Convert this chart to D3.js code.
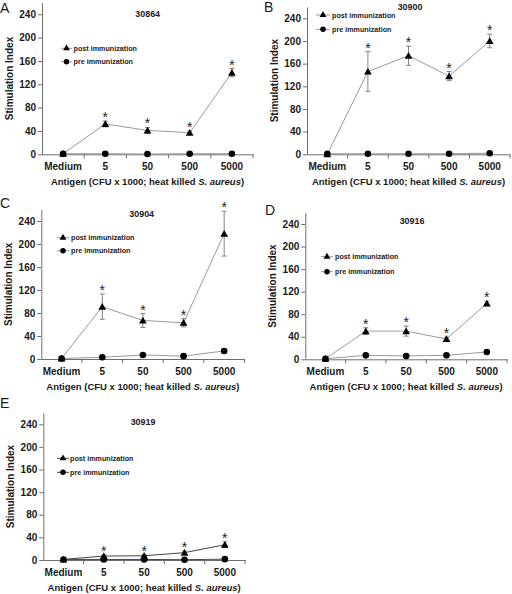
<!DOCTYPE html>
<html><head><meta charset="utf-8">
<script src="https://cdn.jsdelivr.net/npm/d3@7"></script>
<style>
html,body{margin:0;padding:0;background:#fff;}
svg{display:block;font-family:"Liberation Sans",Arial,sans-serif;}
</style></head>
<body>
<svg id="chart" width="512" height="594"></svg>
<script>
// ---------- data ----------
const categories = ["Medium", "5", "50", "500", "5000"];
const yTickValues = [0, 40, 80, 120, 160, 200, 240];
const panelLetters = ["A", "B", "C", "D", "E"];
const panelTitles = ["30864", "30900", "30904", "30916", "30919"];
const seriesNames = ["post immunization", "pre immunization"];
const xAxisTitle = "Antigen (CFU x 1000; heat killed ";
const xAxisTitleItalic = "S. aureus";
const yAxisTitle = "Stimulation Index";

const postA = [1, 52, 41, 37, 140];
const postErrA = [0, 5, 5, 3, 7];
const preA = [1, 1, 0.5, 1, 1];
const preErrA = [0, 0, 0, 0, 0];

const postB = [0, 146, 174, 138, 200];
const postErrB = [0, 35, 17, 8, 12];
const preB = [1, 1, 1, 1, 2];
const preErrB = [0, 0, 0, 0, 0];

const postC = [1, 91, 67, 63, 218];
const postErrC = [0, 22, 12, 7, 39];
const preC = [1, 3, 7, 5, 14];
const preErrC = [0, 0, 0, 0, 0];

const postD = [1, 50, 50, 36, 99];
const postErrD = [0, 6, 9, 3, 4];
const preD = [1, 7, 6, 7, 13];
const preErrD = [0, 0, 0, 0, 0];

const postE = [1, 7, 7.5, 13, 27];
const postErrE = [0, 2, 2, 3, 5];
const preE = [1, 1, 1, 0.5, 1.5];
const preErrE = [0, 0, 0, 0, 0];

const significant = [false, true, true, true, true];

// ---------- layout (positions only) ----------
const panels = [
  {post: postA, postErr: postErrA, pre: preA, preErr: preErrA,
   left: 42, right: 253, y0: 154.3, y240: 14.3,
   letter: [0, 12.5], title: [147.7, 16.5],
   leg: {x1: 61, x2: 72, mx: 66.5, tx: 73.5, yPost: 48.3, yPre: 61.7}, lineColor: "#9a9a9a"},
  {post: postB, postErr: postErrB, pre: preB, preErr: preErrB,
   left: 307, right: 510, y0: 154.3, y240: 18.3,
   letter: [264, 11.5], title: [410, 9.5],
   leg: {x1: 316, x2: 330, mx: 323, tx: 332, yPost: 15, yPre: 29.3}, lineColor: "#9a9a9a"},
  {post: postC, postErr: postErrC, pre: preC, preErr: preErrC,
   left: 41.3, right: 244.5, y0: 359, y240: 221,
   letter: [0, 207.5], title: [141.7, 216.5],
   leg: {x1: 57, x2: 69, mx: 63, tx: 71, yPost: 237.7, yPre: 250.7}, lineColor: "#9a9a9a"},
  {post: postD, postErr: postErrD, pre: preD, preErr: preErrD,
   left: 305.3, right: 507, y0: 359.3, y240: 224,
   letter: [265, 215], title: [412, 223.5],
   leg: {x1: 321, x2: 333, mx: 327, tx: 335, yPost: 256.7, yPre: 271.7}, lineColor: "#9a9a9a"},
  {post: postE, postErr: postErrE, pre: preE, preErr: preErrE,
   left: 43.3, right: 245, y0: 560, y240: 424.3,
   letter: [0, 407.5], title: [143, 425],
   leg: {x1: 57, x2: 69, mx: 63, tx: 70, yPost: 458.3, yPre: 472.3}, lineColor: "#444"}
];

const svg = d3.select("#chart");
const axisColor = "#6e6e6e";
const textColor = "#1a1a1a";
const triangle = d3.symbol().type(d3.symbolTriangle).size(26);
const circle = d3.symbol().type(d3.symbolCircle).size(34);

panels.forEach((p, pi) => {
  const g = svg.append("g");
  const x = d3.scaleBand().domain(categories).range([p.left, p.right]).padding(0);
  const yTop = p.y0 - (p.y0 - p.y240) * 260 / 240;
  const y = d3.scaleLinear().domain([0, 260]).range([p.y0, yTop]);

  // y axis
  const yAxis = d3.axisLeft(y).tickValues(yTickValues).tickSize(4).tickSizeOuter(0).tickPadding(2);
  const ya = g.append("g").attr("transform", `translate(${p.left},0)`).call(yAxis);
  ya.select(".domain").attr("stroke", axisColor);
  ya.selectAll(".tick line").attr("stroke", axisColor);
  ya.selectAll(".tick text").attr("font-size", 10).attr("font-weight", "bold")
    .attr("fill", textColor).attr("font-family", "Liberation Sans, Arial, sans-serif");

  // x axis
  const xAxis = d3.axisBottom(x).tickSize(0).tickSizeOuter(0).tickPadding(9);
  const xa = g.append("g").attr("transform", `translate(0,${p.y0})`).call(xAxis);
  xa.select(".domain").attr("stroke", axisColor);
  xa.selectAll(".tick text").attr("font-size", 10).attr("font-weight", "bold")
    .attr("fill", textColor).attr("font-family", "Liberation Sans, Arial, sans-serif");
  // category boundary ticks
  const bounds = categories.map((c) => x(c) + x.bandwidth());
  g.selectAll(null).data(bounds).enter().append("line")
    .attr("x1", d => d).attr("x2", d => d)
    .attr("y1", p.y0).attr("y2", p.y0 + 4)
    .attr("stroke", axisColor);

  // axis titles
  const xt = g.append("text")
    .attr("x", (p.left + p.right) / 2).attr("y", p.y0 + 31)
    .attr("text-anchor", "middle").attr("font-size", 9.5).attr("font-weight", "bold")
    .attr("fill", textColor);
  xt.append("tspan").text(xAxisTitle);
  xt.append("tspan").attr("font-style", "italic").text(xAxisTitleItalic);
  xt.append("tspan").text(")");

  g.append("text")
    .attr("transform", `translate(${p.left - 29.5},${(p.y0 + yTop) / 2}) rotate(-90)`)
    .attr("text-anchor", "middle").attr("font-size", 10).attr("font-weight", "bold")
    .attr("fill", textColor).text(yAxisTitle);

  // panel letter and title
  g.append("text").attr("x", p.letter[0]).attr("y", p.letter[1])
    .attr("font-size", 14).attr("fill", textColor).text(panelLetters[pi]);
  g.append("text").attr("x", p.title[0]).attr("y", p.title[1])
    .attr("text-anchor", "middle").attr("font-size", 8.9).attr("font-weight", "bold")
    .attr("fill", textColor).text(panelTitles[pi]);

  const cx = c => x(c) + x.bandwidth() / 2;
  const line = d3.line().x((d, i) => cx(categories[i])).y(d => y(d));

  // lines
  [p.pre, p.post].forEach(vals => {
    g.append("path").datum(vals).attr("d", line)
      .attr("fill", "none").attr("stroke", p.lineColor).attr("stroke-width", 1);
  });

  // error bars
  [[p.post, p.postErr], [p.pre, p.preErr]].forEach(([vals, errs]) => {
    const eg = g.append("g").attr("stroke", "#777").attr("stroke-width", 0.9);
    vals.forEach((v, i) => {
      if (!errs[i]) return;
      const xc = cx(categories[i]);
      eg.append("line").attr("x1", xc).attr("x2", xc).attr("y1", y(v - errs[i])).attr("y2", y(v + errs[i]));
      eg.append("line").attr("x1", xc - 2.5).attr("x2", xc + 2.5).attr("y1", y(v + errs[i])).attr("y2", y(v + errs[i]));
      eg.append("line").attr("x1", xc - 2.5).attr("x2", xc + 2.5).attr("y1", y(v - errs[i])).attr("y2", y(v - errs[i]));
    });
  });

  // markers
  g.selectAll(null).data(p.pre).enter().append("path")
    .attr("d", circle).attr("fill", "#000")
    .attr("transform", (d, i) => `translate(${cx(categories[i])},${y(d)})`);
  g.selectAll(null).data(p.post).enter().append("path")
    .attr("d", triangle).attr("fill", "#000")
    .attr("transform", (d, i) => `translate(${cx(categories[i])},${y(d) + 0.8})`);

  // significance stars
  g.selectAll(null).data(p.post.map((v, i) => ({v, i, e: p.postErr[i]})).filter(d => significant[d.i]))
    .enter().append("text")
    .attr("x", d => cx(categories[d.i]))
    .attr("y", d => y(d.v + d.e) + 1)
    .attr("text-anchor", "middle").attr("font-size", 14).attr("fill", "#222")
    .text("*");

  // legend
  const L = p.leg;
  [[L.yPost, "tri", seriesNames[0]], [L.yPre, "circ", seriesNames[1]]].forEach(([ly, sym, name]) => {
    g.append("line").attr("x1", L.x1).attr("x2", L.x2).attr("y1", ly).attr("y2", ly)
      .attr("stroke", p.lineColor).attr("stroke-width", 1);
    g.append("path").attr("d", d3.symbol().type(sym === "tri" ? d3.symbolTriangle : d3.symbolCircle).size(sym === "tri" ? 20 : 24))
      .attr("fill", "#000").attr("transform", `translate(${L.mx},${ly})`);
    g.append("text").attr("x", L.tx).attr("y", ly).attr("dy", "0.35em")
      .attr("font-size", 7.2).attr("font-weight", "bold").attr("fill", "#222").text(name);
  });
});
</script>
</body></html>
